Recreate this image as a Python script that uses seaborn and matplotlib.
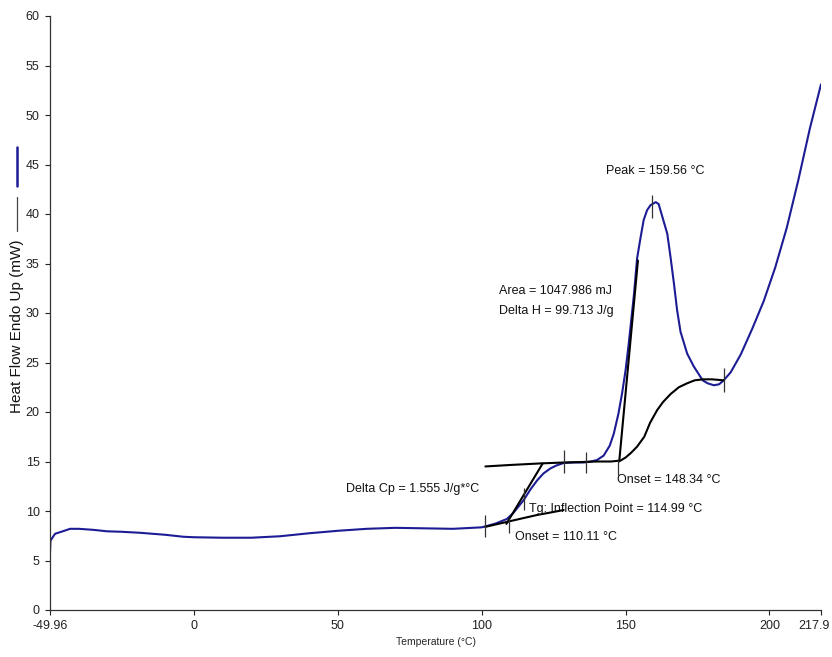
import numpy as np
import pandas as pd
import matplotlib
matplotlib.use("Agg")
import matplotlib.pyplot as plt
import matplotlib.transforms as mtrans
from matplotlib.lines import Line2D
import seaborn as sns

# DSC heat flow curve
temp = [-49.96, -49.8, -48.2, -45, -43, -40, -35, -30.2, -25, -18.7, -10, -3.7, 0, 10, 20,
        30, 40, 50, 60, 70, 80, 90, 100, 102, 105, 108.8, 111, 114.6, 117, 119.3, 121.5,
        123.9, 126, 128.5, 132, 135.5, 138, 140.1, 142.4, 144.5, 145.9, 147.5, 148.8, 150,
        151.1, 152.9, 154, 155.2, 156.3, 157.5, 158.7, 160.5, 161.5, 162.7, 164.5, 165.6,
        166.8, 167.9, 169.1, 171.4, 173.7, 176.8, 178.5, 180.7, 182.5, 184.1, 186.5, 190,
        194, 198, 202, 206, 210, 214, 217.9]
heat_flow = [5.8, 7.0, 7.7, 8.0, 8.2, 8.2, 8.1, 7.95, 7.9, 7.8, 7.6, 7.4, 7.35, 7.3, 7.3,
             7.45, 7.75, 8.0, 8.2, 8.3, 8.25, 8.2, 8.35, 8.5, 8.75, 9.2, 9.8, 11.1, 12.2, 13.1,
             13.8, 14.3, 14.6, 14.85, 14.9, 14.9, 15.0, 15.15, 15.6, 16.6, 17.8, 19.8, 21.9,
             24.2, 26.9, 31.8, 35.5, 37.6, 39.4, 40.4, 40.9, 41.2, 41.0, 39.8, 38.0, 35.7,
             33.0, 30.3, 28.1, 25.9, 24.6, 23.2, 22.9, 22.7, 22.8, 23.2, 24.0, 25.8,
             28.4, 31.2, 34.6, 38.6, 43.4, 48.6, 53.1]

# analysis lines
base_x = [101.3, 110, 120, 128.5, 135, 140, 145, 148.3, 150, 152, 154, 156.5, 158.5, 161,
          163, 165.6, 168.5, 171.4, 174, 177, 180, 184.1]
base_y = [14.5, 14.65, 14.8, 14.9, 14.95, 15.0, 15.0, 15.1, 15.4, 15.9, 16.5, 17.5, 18.9,
          20.2, 21.0, 21.8, 22.5, 22.9, 23.2, 23.3, 23.3, 23.2]
low_x = [101.3, 108.8, 114, 119.3, 124, 128.5]
low_y = [8.4, 8.9, 9.25, 9.6, 9.85, 10.1]
tg_tan_x = [108.6, 121.2]
tg_tan_y = [8.7, 14.8]
pk_tan_x = [147.8, 154.3]
pk_tan_y = [15.0, 35.3]

# little vertical markers
mark_x = [101.3, 109.4, 114.6, 128.5, 136.1, 147.3, 159.3, 184.1]
mark_lo = [7.4, 7.75, 10.1, 13.8, 13.8, 13.6, 39.6, 22.0]
mark_hi = [9.6, 9.3, 12.3, 16.2, 16.0, 15.15, 41.9, 24.4]

x_ticks = [-49.96, 0, 50, 100, 150, 200, 217.9]
x_labels = ["-49.96", "0", "50", "100", "150", "200", "217.9"]
y_ticks = list(range(0, 61, 5))

notes = [("Peak = 159.56 °C", 160.4, 44.3, "center"),
         ("Area = 1047.986 mJ", 106.1, 32.2, "left"),
         ("Delta H = 99.713 J/g", 106.1, 30.2, "left"),
         ("Delta Cp = 1.555 J/g*°C", 53.0, 12.2, "left"),
         ("Tg: Inflection Point = 114.99 °C", 116.6, 10.2, "left"),
         ("Onset = 110.11 °C", 111.7, 7.4, "left"),
         ("Onset = 148.34 °C", 147.2, 13.1, "left")]

sns.set_style("ticks")
plt.rcParams['font.family'] = ['Liberation Sans', 'DejaVu Sans']

blue = "#1c1c94"
fig = plt.figure(figsize=(8.32, 6.57), dpi=100)
ax = fig.add_axes([50 / 832, 1 - 610 / 657, 771 / 832, 594 / 657])

curve = pd.DataFrame({"T": temp, "HF": heat_flow})
sns.lineplot(data=curve, x="T", y="HF", sort=False, color=blue, lw=1.5, ax=ax)

for xs, ys in [(base_x, base_y), (low_x, low_y), (tg_tan_x, tg_tan_y), (pk_tan_x, pk_tan_y)]:
    sns.lineplot(x=xs, y=ys, sort=False, color="black", lw=1.5, ax=ax)

ax.vlines(mark_x, mark_lo, mark_hi, color="#333333", lw=0.9)

for txt, x, y, ha in notes:
    ax.text(x, y, txt, ha=ha, va="center", fontsize=9, color="#111111")

ax.set_xlim(-49.96, 217.9)
ax.set_ylim(0, 60)
ax.set_xticks(x_ticks)
ax.set_xticklabels(x_labels)
ax.set_yticks(y_ticks)
ax.tick_params(labelsize=9, length=3.5, width=0.8, pad=4, colors="#222222")
ax.set_xlabel("Temperature (°C)", fontsize=7.5, labelpad=3)
ax.set_ylabel("")
sns.despine(ax=ax)
for s in ["left", "bottom"]:
    ax.spines[s].set_color("#333333")
    ax.spines[s].set_linewidth(0.9)

# keep the last x label inside the picture
last = ax.get_xticklabels()[-1]
last.set_transform(last.get_transform() + mtrans.ScaledTranslation(-5 / 72, 0, fig.dpi_scale_trans))

# y label with series key marks
fig.text(17 / 832, 1 - 326 / 657, "Heat Flow Endo Up (mW)", rotation=90,
         ha="center", va="center", fontsize=11, color="#111111")
fig.add_artist(Line2D([17 / 832, 17 / 832], [1 - 197 / 657, 1 - 231 / 657],
                      color="#444444", lw=0.9, transform=fig.transFigure))
fig.add_artist(Line2D([17 / 832, 17 / 832], [1 - 147 / 657, 1 - 186 / 657],
                      color=blue, lw=1.8, transform=fig.transFigure))

fig.savefig("out.png", dpi=100)
